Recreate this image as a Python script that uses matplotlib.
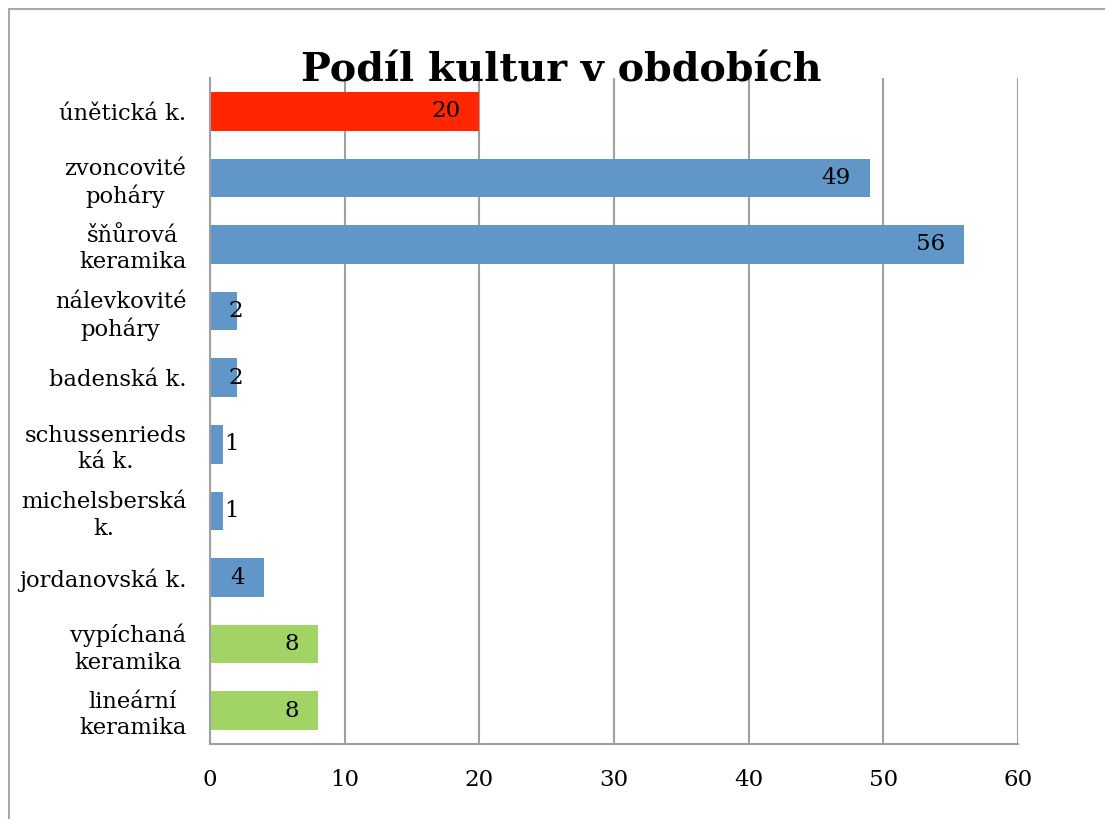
import matplotlib
matplotlib.use("Agg")
import matplotlib.pyplot as plt
from matplotlib.patches import Rectangle

categories = ["únětická k.", "zvoncovité\npoháry", "šňůrová\nkeramika", "nálevkovité\npoháry",
              "badenská k.", "schussenrieds\nká k.", "michelsberská\nk.", "jordanovská k.",
              "vypíchaná\nkeramika", "lineární\nkeramika"]
values = [20, 49, 56, 2, 2, 1, 1, 4, 8, 8]
groups = ["red", "blue", "blue", "blue", "blue", "blue", "blue", "blue", "green", "green"]
xticks = [0, 10, 20, 30, 40, 50, 60]
title = "Podíl kultur v obdobích"

palette = {"red": "#FF2600", "blue": "#6196C9", "green": "#A2D465"}
FONT = "DejaVu Serif"
W, H = 1105, 819

fig = plt.figure(figsize=(W / 100, H / 100), dpi=100)
ax = fig.add_axes([210 / W, 1 - 744 / H, (1018 - 210) / W, (744 - 78) / H])

ypos = list(range(len(categories)))
ax.barh(ypos, values, height=0.58, color=[palette[g] for g in groups], zorder=2)
ax.set_ylim(len(categories) - 0.5, -0.5)
ax.set_xlim(0, 60)
ax.set_xticks(xticks)
ax.set_xticklabels([str(t) for t in xticks], fontfamily=FONT, fontsize=16.5)
ax.set_yticks(ypos)
ax.set_yticklabels(categories, fontfamily=FONT, fontsize=16.3, multialignment="center",
                   linespacing=1.25)
ax.tick_params(axis="both", length=0)
ax.tick_params(axis="x", pad=18)
ax.tick_params(axis="y", pad=17)
ax.xaxis.grid(True, color="#A0A0A0", linewidth=1.5, zorder=1)
ax.set_axisbelow(True)
for s in ["top", "right"]:
    ax.spines[s].set_visible(False)
for s in ["left", "bottom"]:
    ax.spines[s].set_color("#A0A0A0")
    ax.spines[s].set_linewidth(1.5)
    ax.spines[s].set_zorder(3)

for y, v in zip(ypos, values):
    if v >= 4:
        ax.annotate(str(v), xy=(v, y), xytext=(-19, 0), textcoords="offset pixels",
                    ha="right", va="center", fontfamily=FONT, fontsize=16.5,
                    color="black", zorder=4)
    else:
        ax.text(1.3 + 0.3 * v, y, str(v), ha="center", va="center", fontfamily=FONT,
                fontsize=16.5, color="black", zorder=4)

fig.text(561.5 / W, 1 - 82 / H, title, ha="center", va="baseline",
         fontfamily=FONT, fontweight="bold", fontsize=28.5)

fig.patches.append(Rectangle((9 / W, -0.1), 1.2, 1 - 9 / H + 0.1, transform=fig.transFigure,
                             fill=False, edgecolor="#A8A8A8", linewidth=1.5))

fig.savefig("out.png", dpi=100)
